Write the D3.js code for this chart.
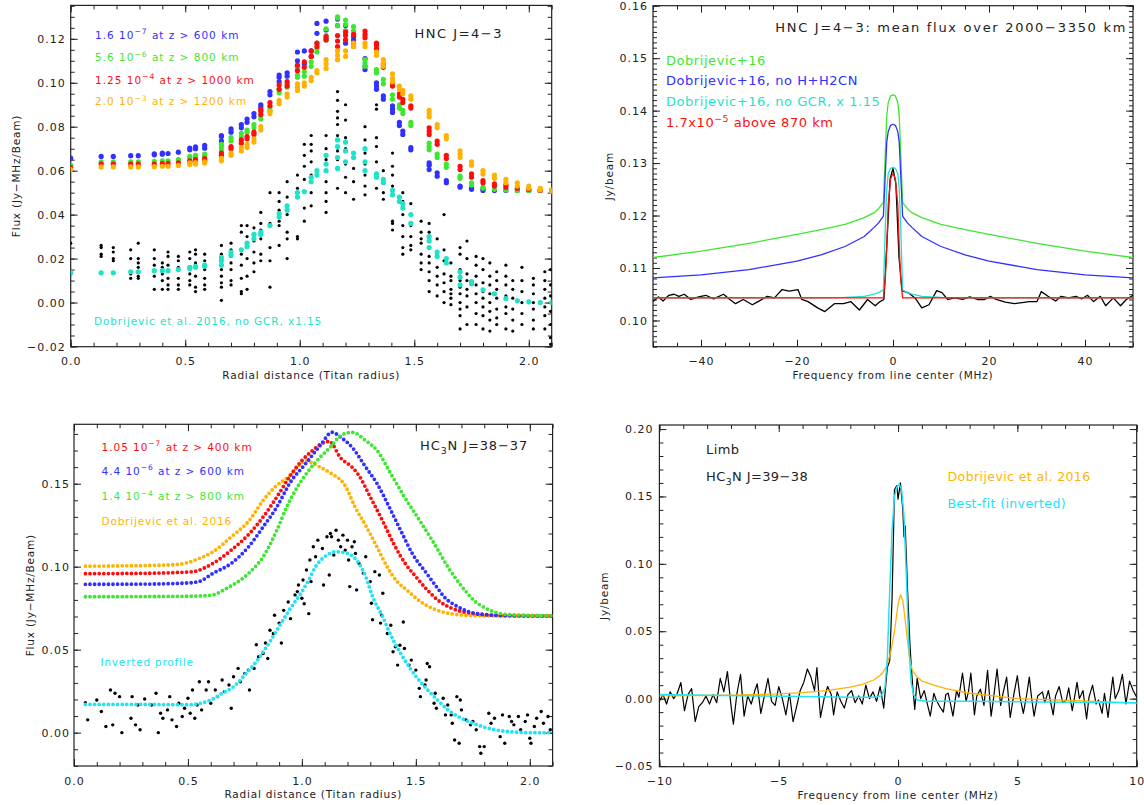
<!DOCTYPE html>
<html>
<head>
<meta charset="utf-8">
<script src="https://d3js.org/d3.v7.min.js"></script>
<style>
  body { margin: 0; background: #fff; }
  svg text { font-family: "DejaVu Sans", sans-serif; fill: #222; }
</style>
</head>
<body>
<svg id="chart" width="1144" height="805"></svg>
<script>
// ---------- panel 1 : HNC J=4-3 radial profiles ----------
const hncR = [0.0, 0.133, 0.186, 0.262, 0.295, 0.365, 0.40, 0.425, 0.47, 0.52, 0.545, 0.585, 0.658, 0.70, 0.745, 0.77,
  0.80, 0.83, 0.87, 0.91, 0.945, 0.99, 1.02, 1.05, 1.075, 1.115, 1.165, 1.20, 1.235, 1.285, 1.335, 1.365, 1.405,
  1.435, 1.45, 1.485, 1.565, 1.60, 1.64, 1.70, 1.75, 1.80, 1.85, 1.90, 1.95, 2.00, 2.05, 2.10];
const hncBlue = [[0.0657],[0.0665],[0.0665],[0.0668],[0.0668],[0.0672,0.0677],[0.0675,0.068],[0.0678],[0.0684],[0.0695,0.0703],
  [0.070,0.0708],[0.0702,0.0715],[0.0735,0.0755,0.076],[0.0775,0.079],[0.0795,0.081],[0.082,0.0835],[0.0845,0.086],[0.089,0.090],
  [0.0945,0.096],[0.1005,0.1025,0.1035],[0.103,0.1045],[0.1075,0.110,0.114],[0.1085,0.1145],[0.112,0.1145],[0.1225,0.127],
  [0.120,0.124,0.128],[0.126,0.129],[0.118,0.1235,0.126],[0.1165,0.1195,0.121],[0.106,0.1075,0.111],[0.097,0.0985,0.100],
  [0.0925,0.094],[0.0865,0.088,0.0895],[0.0805,0.082],[0.0765,0.078],[0.0695,0.0705],[0.0605,0.0625,0.0635],[0.0575,0.059],
  [0.0545,0.0555],[0.0525,0.053],[0.0515,0.052],[0.051,0.0515],[0.051],[0.051],[0.051],[0.051],[0.051],[0.051]];
const hncGreen = [[0.0624],[0.064],[0.064],[0.064],[0.064],[0.0642],[0.0645],[0.0645],[0.065],[0.0658,0.0665],[0.066,0.067],
  [0.0665,0.0675],[0.0695,0.071,0.072],[0.0735,0.075],[0.0755,0.077],[0.0775,0.0785],[0.0795,0.081],[0.0835,0.085],[0.0875,0.089],
  [0.0955,0.097],[0.098,0.0995],[0.1025,0.1035,0.107],[0.103,0.105],[0.1075,0.1095],[0.114,0.1155,0.118],[0.1195,0.1215,0.1245],
  [0.126,0.1295,0.130],[0.1235,0.1265,0.1285],[0.1235,0.1255],[0.1075,0.109,0.1105],[0.1045,0.106],[0.0995,0.1015],[0.0925,0.0945],
  [0.0885,0.090],[0.086,0.0875],[0.0805,0.082],[0.0695,0.071,0.0725],[0.066,0.0675],[0.0615,0.063],[0.0565,0.0575],[0.0535,0.0545],
  [0.052,0.0525],[0.0515],[0.0512],[0.051],[0.051],[0.051],[0.051]];
const hncRed = [[0.0614],[0.063],[0.063],[0.063],[0.063],[0.063],[0.0632],[0.0633],[0.0635],[0.064,0.0645],[0.0643,0.065],
  [0.0645,0.0655],[0.067,0.068],[0.070,0.071],[0.0725,0.074],[0.0745,0.0755],[0.0765,0.0775],[0.0855,0.087,0.088],[0.0895,0.091],
  [0.097,0.099],[0.0985,0.1005],[0.1055,0.108],[0.107,0.1095],[0.112,0.1145],[0.1165,0.118],[0.1195,0.121],[0.1165,0.119,0.1215],
  [0.1195,0.1215,0.123],[0.118,0.122],[0.1205,0.122,0.1235],[0.1155,0.117,0.118],[0.107,0.1085],[0.0985,0.100],[0.0935,0.095],
  [0.091,0.0925],[0.0885,0.0895],[0.0765,0.078,0.0795],[0.072,0.0735],[0.0655,0.067],[0.0605,0.062],[0.057,0.0585],[0.0545,0.0555],
  [0.053,0.054],[0.0525,0.0535],[0.052],[0.0515],[0.051],[0.051]];
const hncOrange = [[0.0605],[0.0617],[0.0617],[0.0617],[0.0617],[0.0618],[0.062],[0.062],[0.0624],[0.0628,0.0635],[0.063,0.0637],
  [0.0635,0.064],[0.0645,0.0656],[0.067,0.068],[0.069,0.0705],[0.0705,0.072],[0.073,0.0745],[0.0785,0.080],[0.086,0.087],
  [0.0905,0.092],[0.0935,0.095],[0.0965,0.098,0.0995],[0.0985,0.100],[0.101,0.1025],[0.1045,0.1055],[0.1065,0.1085,0.1105],
  [0.1105,0.1125,0.1145],[0.112,0.1145],[0.1165,0.118],[0.1165,0.118],[0.1125,0.114],[0.1075,0.109,0.1105],[0.1005,0.102,0.104],
  [0.097,0.0985],[0.095,0.0965],[0.0925,0.094],[0.0845,0.086,0.0875],[0.0795,0.081],[0.0745,0.076],[0.066,0.0675,0.069],
  [0.0625,0.064],[0.0585,0.060],[0.0565,0.058],[0.0545,0.056],[0.053,0.0545],[0.052,0.053],[0.0512,0.052],[0.0505,0.0512]];
const hncNoGcr = [[0.0135],[0.0135],[0.0135],[0.014],[0.014],[0.0145],[0.0145],[0.0145],[0.015],[0.0155,0.016],[0.016,0.0165],
  [0.0165,0.017],[0.017,0.019,0.0205],[0.0215,0.023],[0.024],[0.0255,0.027],[0.029,0.031],[0.031,0.032],[0.035],[0.039,0.0405],
  [0.042,0.044],[0.048,0.050],[0.0505],[0.055,0.057],[0.058,0.060],[0.060,0.063,0.067],[0.061,0.066,0.071,0.074],[0.064,0.069,0.073],
  [0.066,0.068],[0.060,0.064,0.070],[0.057,0.0585],[0.0545,0.056],[0.049,0.051],[0.046,0.048],[0.043,0.045],[0.036,0.040],
  [0.025,0.028,0.030],[0.021,0.023],[0.018,0.020],[0.008,0.0115,0.014],[0.0085,0.0095],[0.0058],[0.004],[0.0018],[0.0008],
  [0.0003],[0.0],[0.0]];
const hncObs = [
  [0.0, [0.027, 0.013]], [0.133, [0.026, 0.025, 0.022, 0.021]], [0.186, [0.025, 0.023, 0.020, 0.019]],
  [0.262, [0.024, 0.020, 0.013, 0.011]], [0.295, [0.027, 0.020, 0.018, 0.016, 0.012, 0.011]],
  [0.365, [0.024, 0.020, 0.017, 0.012, 0.006]], [0.40, [0.018, 0.016, 0.013, 0.010, 0.006]],
  [0.425, [0.023, 0.021, 0.017, 0.011, 0.008, 0.006]], [0.47, [0.021, 0.019, 0.016, 0.011, 0.008, 0.006]],
  [0.52, [0.023, 0.020, 0.013, 0.010, 0.008]], [0.545, [0.024, 0.022, 0.018, 0.016, 0.012, 0.007, 0.005]],
  [0.585, [0.022, 0.019, 0.015, 0.011, 0.008, 0.006]],
  [0.658, [0.026, 0.022, 0.020, 0.018, 0.015, 0.012, 0.009, 0.007, 0.001]],
  [0.70, [0.027, 0.024, 0.021, 0.018, 0.015, 0.010, 0.008]], [0.745, [0.035, 0.032, 0.022, 0.017, 0.011, 0.005, 0.004]],
  [0.77, [0.035, 0.030, 0.025, 0.020, 0.012, 0.006]], [0.80, [0.034, 0.031, 0.028, 0.023, 0.018, 0.014]],
  [0.83, [0.041, 0.036, 0.033, 0.029, 0.022, 0.019]], [0.87, [0.050, 0.036, 0.025, 0.019, 0.007]],
  [0.91, [0.050, 0.046, 0.042, 0.037, 0.035, 0.026]], [0.945, [0.055, 0.048, 0.044, 0.040, 0.032, 0.029, 0.020]],
  [0.99, [0.058, 0.052, 0.048, 0.030, 0.029]], [1.02, [0.072, 0.067, 0.062, 0.056, 0.043, 0.037]],
  [1.05, [0.076, 0.072, 0.069, 0.064, 0.058, 0.055, 0.050, 0.044]],
  [1.115, [0.076, 0.070, 0.065, 0.060, 0.055, 0.050, 0.046, 0.041]],
  [1.165, [0.096, 0.092, 0.087, 0.084, 0.081, 0.076, 0.069, 0.065, 0.061, 0.052]],
  [1.20, [0.090, 0.083, 0.075, 0.070, 0.063, 0.057, 0.050]], [1.235, [0.061, 0.055, 0.047]],
  [1.285, [0.080, 0.074, 0.068, 0.063, 0.058, 0.053, 0.049]], [1.335, [0.090, 0.088, 0.075, 0.071, 0.064, 0.058, 0.052]],
  [1.365, [0.060, 0.055, 0.050, 0.047]], [1.405, [0.068, 0.062, 0.058, 0.053, 0.037, 0.036, 0.033]],
  [1.45, [0.050, 0.046, 0.043, 0.040, 0.035, 0.030, 0.025, 0.022]], [1.485, [0.045, 0.040, 0.035, 0.030, 0.026, 0.024]],
  [1.53, [0.037, 0.032, 0.029, 0.027, 0.022, 0.018, 0.015]],
  [1.565, [0.036, 0.032, 0.025, 0.021, 0.018, 0.014, 0.010, 0.005]], [1.60, [0.029, 0.022, 0.016, 0.012, 0.008, 0.003]],
  [1.63, [0.040, 0.024, 0.019, 0.013, 0.009, 0.005, 0.0]], [1.66, [0.018, 0.012, 0.010, 0.006, 0.004, 0.002, -0.001]],
  [1.70, [0.025, 0.022, 0.015, 0.012, 0.010, 0.007, 0.004, 0.0, -0.003, -0.006, -0.012]],
  [1.73, [0.028, 0.020, 0.013, 0.010, 0.006, 0.003, -0.002, -0.010]],
  [1.77, [0.021, 0.017, 0.012, 0.008, 0.004, 0.0, -0.005, -0.010]],
  [1.80, [0.020, 0.015, 0.009, 0.005, 0.002, -0.002, -0.006, -0.012]],
  [1.83, [0.018, 0.012, 0.008, 0.004, 0.0, -0.004, -0.008, -0.013]],
  [1.86, [0.014, 0.010, 0.006, 0.002, -0.003, -0.007, -0.010]],
  [1.90, [0.017, 0.012, 0.008, 0.003, -0.002, -0.005, -0.012]], [1.93, [0.010, 0.006, 0.002, -0.003, -0.008, -0.013]],
  [1.97, [0.016, 0.010, 0.005, 0.0, -0.005, -0.010]], [2.02, [0.011, 0.008, 0.004, 0.0, -0.003, -0.008, -0.012]],
  [2.07, [0.014, 0.010, 0.006, 0.002, -0.002, -0.006, -0.012]], [2.095, [0.015, 0.008, 0.003, -0.004, -0.010, -0.016, -0.019]]
];

// ---------- panel 2 : HNC mean spectrum ----------
const freqModel = [-50, -40, -30, -20, -15, -10, -6, -4, -3, -2, -1.6, -1.3, -1, -0.5, 0, 0.5, 1, 1.3, 1.6, 2, 3, 4, 6, 10, 15, 20, 30, 40, 50];
const specDob = [0.1120, 0.1132, 0.1147, 0.1164, 0.1173, 0.1183, 0.1196, 0.1205, 0.1213, 0.1225, 0.1320, 0.1390, 0.1415, 0.1428, 0.1430,
  0.1428, 0.1415, 0.1390, 0.1320, 0.1225, 0.1213, 0.1205, 0.1196, 0.1183, 0.1173, 0.1164, 0.1147, 0.1132, 0.1120];
const specNoH = [0.1081, 0.1087, 0.1097, 0.1113, 0.1125, 0.1141, 0.1160, 0.1177, 0.1186, 0.1199, 0.1280, 0.1340, 0.1360, 0.1372, 0.1374,
  0.1372, 0.1360, 0.1340, 0.1280, 0.1199, 0.1186, 0.1177, 0.1160, 0.1141, 0.1125, 0.1113, 0.1097, 0.1087, 0.1081];
const specNoGcr = [0.1043, 0.1043, 0.1043, 0.1043, 0.1043, 0.1044, 0.1046, 0.1050, 0.1053, 0.1058, 0.1180, 0.1250, 0.1280, 0.1290, 0.1292,
  0.1290, 0.1280, 0.1250, 0.1180, 0.1058, 0.1053, 0.1050, 0.1046, 0.1044, 0.1043, 0.1043, 0.1043, 0.1043, 0.1043];
const specConst = [0.1043, 0.1043, 0.1043, 0.1043, 0.1043, 0.1043, 0.1043, 0.1043, 0.1043, 0.1043, 0.1080, 0.1140, 0.1220, 0.1270, 0.1280,
  0.1270, 0.1220, 0.1140, 0.1080, 0.1043, 0.1043, 0.1043, 0.1043, 0.1043, 0.1043, 0.1043, 0.1043, 0.1043, 0.1043];
const freqObs = [-50, -48.9, -47.9, -46.7, -45.6, -44.6, -43.5, -42.1, -40.5, -39, -37.4, -35.3, -34, -32.8, -31.2, -29.3, -28.1,
  -26.2, -24.7, -23.1, -21.6, -19.8, -19, -17.7, -15.7, -14.2, -12.2, -10.3, -8.8, -7, -5.3, -3.7, -2.7, -1.9, -1.25, -0.6, 0,
  0.6, 1.25, 1.9, 3.3, 4.6, 6, 7.5, 9.1, 10.2, 11.4, 12.9, 14.5, 16, 17.6, 19.1, 20.3, 21.5, 23.4, 25.3, 26.9, 28.4, 30, 30.9,
  32.3, 33.9, 35, 36.6, 38.1, 39.3, 40.5, 41.8, 43.2, 44.3, 45.9, 47.4, 48.6, 50];
const fluxObs = [0.1036, 0.1045, 0.1037, 0.1048, 0.1050, 0.1046, 0.1050, 0.1040, 0.1045, 0.1048, 0.1041, 0.1050, 0.1040, 0.1032,
  0.1040, 0.1030, 0.1036, 0.1046, 0.1043, 0.1059, 0.1056, 0.1059, 0.1040, 0.1036, 0.1024, 0.1017, 0.1032, 0.1032, 0.1036, 0.1020,
  0.1040, 0.1028, 0.1036, 0.1040, 0.1150, 0.1270, 0.1290, 0.1260, 0.1120, 0.1057, 0.1052, 0.1043, 0.1024, 0.1030, 0.1057, 0.1053,
  0.1040, 0.1043, 0.1040, 0.1045, 0.1040, 0.1040, 0.1046, 0.1040, 0.1035, 0.1032, 0.1034, 0.1036, 0.1036, 0.1055, 0.1046, 0.1037,
  0.1046, 0.1043, 0.1046, 0.1041, 0.1048, 0.1036, 0.1046, 0.1028, 0.1043, 0.1028, 0.1040, 0.1048];

// ---------- panel 3 : HC3N J=38-37 radial profiles ----------
const hc3nOrange = [[0.05,0.1003],[0.2,0.1005],[0.35,0.1008],[0.45,0.1013],[0.5,0.1025],[0.55,0.105],[0.61,0.109],[0.69,0.118],
  [0.77,0.128],[0.83,0.140],[0.89,0.149],[0.94,0.154],[0.98,0.160],[1.02,0.164],[1.05,0.162],[1.08,0.160],[1.125,0.1565],
  [1.19,0.1488],[1.234,0.1358],[1.28,0.1248],[1.33,0.1117],[1.375,0.0997],[1.42,0.0907],[1.46,0.086],[1.52,0.079],
  [1.58,0.0745],[1.66,0.0715],[1.75,0.0705],[2.1,0.0703]];
const hc3nRed = [[0.05,0.0958],[0.3,0.096],[0.45,0.0965],[0.52,0.097],[0.61,0.102],[0.69,0.110],[0.77,0.120],[0.83,0.130],
  [0.89,0.142],[0.95,0.155],[1.0,0.164],[1.047,0.170],[1.09,0.1745],[1.12,0.1755],[1.17,0.1655],[1.22,0.160],[1.25,0.155],
  [1.30,0.142],[1.36,0.126],[1.406,0.113],[1.453,0.102],[1.5,0.094],[1.55,0.086],[1.6,0.0795],[1.66,0.0748],[1.74,0.072],
  [1.85,0.0707],[2.1,0.0703]];
const hc3nBlue = [[0.05,0.0894],[0.3,0.0895],[0.5,0.0902],[0.547,0.091],[0.61,0.096],[0.69,0.102],[0.766,0.112],[0.83,0.124],
  [0.89,0.136],[0.95,0.151],[1.016,0.162],[1.08,0.173],[1.133,0.181],[1.17,0.178],[1.22,0.172],[1.28,0.160],[1.33,0.150],
  [1.39,0.134],[1.44,0.120],[1.484,0.108],[1.547,0.096],[1.59,0.088],[1.63,0.081],[1.67,0.077],[1.72,0.0735],[1.8,0.0712],
  [1.9,0.0705],[2.1,0.0703]];
const hc3nGreen = [[0.05,0.0819],[0.3,0.082],[0.5,0.0822],[0.6,0.0828],[0.67,0.087],[0.766,0.096],[0.83,0.106],[0.89,0.122],
  [0.94,0.138],[0.98,0.148],[1.03,0.158],[1.08,0.166],[1.125,0.172],[1.17,0.179],[1.22,0.181],[1.28,0.176],[1.33,0.170],
  [1.39,0.156],[1.45,0.142],[1.516,0.128],[1.58,0.114],[1.64,0.100],[1.68,0.092],[1.72,0.085],[1.76,0.079],[1.80,0.0755],
  [1.85,0.0725],[1.92,0.071],[2.1,0.0705]];
const hc3nInverted = [[0.05,0.017],[0.3,0.017],[0.5,0.0168],[0.6,0.0197],[0.65,0.0237],[0.7,0.0277],[0.75,0.0348],[0.8,0.0428],
  [0.85,0.0528],[0.9,0.0639],[0.95,0.075],[1.0,0.085],[1.03,0.092],[1.06,0.100],[1.1,0.106],[1.15,0.109],[1.2,0.108],
  [1.25,0.102],[1.28,0.094],[1.31,0.082],[1.35,0.071],[1.4,0.056],[1.45,0.044],[1.5,0.034],[1.55,0.026],[1.6,0.019],
  [1.65,0.0127],[1.7,0.0087],[1.75,0.0057],[1.8,0.0033],[1.85,0.0017],[1.9,0.0007],[2.0,0.0],[2.1,0.0]];
const hc3nObs = [[0.05,0.018],[0.06,0.0077],[0.10,0.0197],[0.12,0.0127],[0.14,0.0037],[0.16,0.0257],[0.17,0.0047],[0.18,0.0237],
  [0.20,0.0217],[0.21,0.0],[0.25,0.0087],[0.255,0.0217],[0.27,0.0047],[0.28,0.0167],[0.29,0.0017],[0.31,0.0203],[0.34,0.0167],
  [0.36,0.0237],[0.37,0.0],[0.38,0.0117],[0.39,0.0087],[0.41,0.0137],[0.42,0.0217],[0.43,0.0077],[0.45,0.0037],[0.46,0.0177],
  [0.475,0.0097],[0.485,0.0147],[0.50,0.0207],[0.51,0.0117],[0.52,0.0257],[0.53,0.0087],[0.54,0.0167],[0.55,0.0307],[0.56,0.0137],
  [0.58,0.0257],[0.59,0.0307],[0.60,0.0177],[0.62,0.0257],[0.63,0.0217],[0.65,0.0317],[0.66,0.0247],[0.68,0.0287],[0.69,0.0147],
  [0.70,0.0337],[0.72,0.0387],[0.73,0.0307],[0.75,0.0357],[0.765,0.0377],[0.77,0.0257],[0.79,0.0387],[0.80,0.053],[0.81,0.0457],
  [0.83,0.0477],[0.84,0.054],[0.85,0.0447],[0.86,0.0617],[0.875,0.0597],[0.88,0.0707],[0.90,0.066],[0.91,0.054],[0.92,0.0737],
  [0.94,0.0787],[0.95,0.0687],[0.97,0.083],[0.98,0.085],[0.985,0.089],[1.0,0.081],[1.005,0.092],[1.01,0.0777],[1.02,0.098],
  [1.03,0.0717],[1.035,0.104],[1.04,0.091],[1.05,0.112],[1.06,0.106],[1.07,0.116],[1.09,0.111],[1.095,0.089],[1.11,0.118],
  [1.12,0.095],[1.125,0.120],[1.13,0.118],[1.14,0.107],[1.15,0.122],[1.16,0.116],[1.17,0.112],[1.18,0.119],[1.19,0.110],
  [1.20,0.116],[1.205,0.104],[1.21,0.088],[1.22,0.112],[1.23,0.115],[1.235,0.108],[1.24,0.086],[1.25,0.102],[1.27,0.096],
  [1.28,0.106],[1.30,0.091],[1.305,0.078],[1.31,0.068],[1.32,0.097],[1.34,0.095],[1.345,0.066],[1.35,0.0707],[1.355,0.084],
  [1.375,0.0597],[1.39,0.0647],[1.40,0.0487],[1.41,0.0517],[1.42,0.0407],[1.43,0.0527],[1.445,0.0667],[1.45,0.0507],[1.47,0.0407],
  [1.48,0.0437],[1.50,0.0377],[1.515,0.0267],[1.52,0.0217],[1.54,0.0287],[1.545,0.0317],[1.55,0.0417],[1.56,0.0397],[1.58,0.0177],
  [1.585,0.0237],[1.59,0.0147],[1.62,0.0207],[1.63,0.0107],[1.64,0.0167],[1.655,0.0107],[1.66,0.0057],[1.67,-0.0044],[1.68,0.0217],
  [1.69,-0.0064],[1.695,0.0197],[1.70,0.0137],[1.72,0.0077],[1.74,0.0047],[1.75,0.0067],[1.765,0.0017],[1.78,-0.0084],
  [1.785,-0.0124],[1.80,-0.0084],[1.82,0.0117],[1.83,0.0057],[1.845,0.0087],[1.87,-0.0024],[1.88,0.0107],[1.89,-0.0064],
  [1.91,0.0097],[1.92,0.0067],[1.93,0.0047],[1.95,0.0097],[1.96,0.0017],[1.98,0.0067],[1.99,0.0107],[2.0,-0.0034],[2.005,-0.0064],
  [2.02,0.0037],[2.03,0.0087],[2.05,0.0127],[2.06,0.0057],[2.08,0.0097],[2.09,0.0017]];

// ---------- panel 4 : HC3N J=39-38 limb spectrum ----------
const limbSpec = [[-10.0,-0.002],[-9.85,0.003],[-9.7,-0.004],[-9.55,0.005],[-9.4,0.0],[-9.25,0.004],[-9.1,0.012],[-8.95,-0.009],
  [-8.8,0.003],[-8.65,0.0075],[-8.5,-0.017],[-8.35,-0.006],[-8.2,-0.003],[-8.05,0.002],[-7.9,-0.004],[-7.75,0.003],[-7.6,-0.003],
  [-7.45,0.015],[-7.3,0.005],[-7.15,0.020],[-7.0,-0.005],[-6.9,-0.019],[-6.75,0.004],[-6.6,0.018],[-6.45,-0.013],[-6.3,0.002],
  [-6.15,-0.004],[-6.0,0.006],[-5.9,0.011],[-5.75,-0.011],[-5.6,0.002],[-5.45,0.015],[-5.3,-0.002],[-5.15,-0.005],[-5.0,0.009],
  [-4.85,0.0],[-4.7,-0.012],[-4.55,0.004],[-4.4,-0.017],[-4.25,-0.006],[-4.1,0.006],[-3.95,0.012],[-3.8,0.022],[-3.65,0.016],
  [-3.5,0.006],[-3.4,0.023],[-3.25,-0.014],[-3.1,0.0],[-2.95,0.009],[-2.8,0.003],[-2.7,-0.012],[-2.55,0.005],[-2.4,-0.002],
  [-2.25,-0.007],[-2.1,0.003],[-1.95,0.006],[-1.8,-0.003],[-1.65,0.002],[-1.5,-0.004],[-1.35,0.010],[-1.2,0.0],[-1.05,0.005],
  [-0.9,-0.002],[-0.75,0.009],[-0.6,-0.007],[-0.45,0.023],[-0.35,0.028],[-0.25,0.075],[-0.15,0.155],[-0.05,0.158],[0.0,0.148],
  [0.1,0.160],[0.2,0.140],[0.25,0.120],[0.3,0.128],[0.4,0.080],[0.5,0.040],[0.55,0.025],[0.62,0.008],[0.7,-0.008],[0.8,0.015],
  [0.95,0.0],[1.1,0.006],[1.2,-0.002],[1.35,-0.013],[1.5,0.004],[1.6,-0.001],[1.75,-0.006],[1.9,-0.010],[2.0,0.003],[2.1,0.004],
  [2.2,-0.004],[2.3,-0.013],[2.45,0.006],[2.55,0.001],[2.7,0.019],[2.85,-0.002],[2.95,0.005],[3.05,0.019],[3.2,-0.012],[3.3,0.002],
  [3.45,0.007],[3.6,-0.005],[3.75,0.021],[3.9,-0.013],[4.0,0.0],[4.15,0.022],[4.3,-0.005],[4.4,0.004],[4.55,0.016],[4.7,-0.014],
  [4.85,0.003],[5.0,0.017],[5.1,0.002],[5.25,-0.011],[5.4,0.004],[5.5,0.016],[5.6,0.0],[5.7,-0.013],[5.85,0.002],[6.05,0.005],
  [6.15,-0.003],[6.3,0.006],[6.5,-0.012],[6.6,0.002],[6.75,0.009],[6.9,-0.003],[7.05,-0.001],[7.15,0.008],[7.3,-0.009],[7.5,0.012],
  [7.6,0.0],[7.75,0.006],[7.9,-0.015],[8.0,0.001],[8.15,0.010],[8.3,-0.004],[8.4,-0.001],[8.55,-0.011],[8.65,0.004],[8.8,-0.014],
  [8.9,0.002],[9.0,0.016],[9.1,0.0],[9.25,0.006],[9.4,0.018],[9.55,-0.004],[9.7,0.013],[9.85,0.006],[10.0,0.001]];
const limbDob = [[-10,0.002],[-7,0.0025],[-5,0.0035],[-4,0.0045],[-3,0.006],[-2,0.0085],[-1.5,0.0105],[-1,0.014],[-0.7,0.018],
  [-0.5,0.023],[-0.3,0.035],[-0.15,0.050],[0,0.070],[0.1,0.077],[0.2,0.073],[0.3,0.058],[0.4,0.042],[0.5,0.028],[0.6,0.021],
  [0.8,0.016],[1.0,0.013],[1.5,0.010],[2,0.0075],[3,0.004],[4,0.002],[5,0.0],[7.5,-0.0015],[10,-0.0034]];
const limbFit = [[-10,0.003],[-8,0.0025],[-6,0.002],[-4,0.0015],[-2,0.001],[-1,0.001],[-0.7,0.002],[-0.55,0.008],[-0.45,0.030],
  [-0.35,0.080],[-0.25,0.125],[-0.15,0.150],[-0.05,0.157],[0.05,0.159],[0.15,0.155],[0.25,0.135],[0.35,0.090],[0.45,0.040],
  [0.55,0.012],[0.65,0.003],[0.8,-0.001],[1.2,-0.002],[3,-0.002],[6,-0.0025],[10,-0.003]];

const col = { blue: "#3030ff", green: "#3ee632", red: "#ff0d0d", orange: "#ffb300", teal: "#1ee3c6", cyan: "#22e2f4", black: "#000" };

const svg = d3.select("#chart");

// frame, inward ticks on four sides, tick labels
function panel(o) {
  const x = d3.scaleLinear().domain(o.xDomain).range([o.left, o.right]);
  const y = d3.scaleLinear().domain(o.yDomain).range([o.bottom, o.top]);
  const g = svg.append("g");
  const steps = (d, s) => d3.range(Math.ceil(d[0] / s - 1e-9), Math.floor(d[1] / s + 1e-9) + 1).map(i => +(i * s).toFixed(6));
  const xMaj = steps(o.xDomain, o.xMajor), xMin = steps(o.xDomain, o.xMinor);
  const yMaj = steps(o.yDomain, o.yMajor), yMin = steps(o.yDomain, o.yMinor);

  const axes = [
    [d3.axisBottom(x), o.bottom, true, xMaj, xMin, o.xFormat],
    [d3.axisTop(x), o.top, true, xMaj, xMin, null],
    [d3.axisLeft(y), o.left, false, yMaj, yMin, o.yFormat],
    [d3.axisRight(y), o.right, false, yMaj, yMin, null]
  ];
  axes.forEach(([ax, pos, horiz, maj, min, fmt]) => {
    const t = horiz ? `translate(0,${pos})` : `translate(${pos},0)`;
    g.append("g").attr("transform", t)
      .call(ax.tickValues(min).tickSize(-4).tickFormat(""))
      .call(a => a.select(".domain").remove());
    const a = g.append("g").attr("transform", t)
      .call(ax.tickValues(maj).tickSize(-7).tickPadding(horiz ? 11 : o.yPad).tickFormat(fmt ? d3.format(fmt) : ""));
    a.select(".domain").remove();
    a.attr("font-size", 11).attr("font-family", null);
    a.selectAll("text").style("fill", "#222").style("letter-spacing", "1px");
  });
  g.selectAll(".tick line").attr("stroke", "#222");
  g.append("rect").attr("x", o.left).attr("y", o.top)
    .attr("width", o.right - o.left).attr("height", o.bottom - o.top)
    .attr("fill", "none").attr("stroke", "#222").attr("stroke-width", 1.2);

  const cid = "clip" + o.id;
  svg.append("clipPath").attr("id", cid).append("rect")
    .attr("x", o.left).attr("y", o.top).attr("width", o.right - o.left).attr("height", o.bottom - o.top);
  const plot = svg.append("g").attr("clip-path", `url(#${cid})`);

  // axis titles
  svg.append("text").attr("x", (o.left + o.right) / 2).attr("y", o.bottom + 32)
    .attr("text-anchor", "middle").attr("font-size", 10.5).style("letter-spacing", "0.8px").text(o.xTitle);
  svg.append("text").attr("transform", `translate(${o.yTitleX},${(o.top + o.bottom) / 2}) rotate(-90)`)
    .attr("text-anchor", "middle").attr("font-size", 10.5).style("letter-spacing", "0.8px").text(o.yTitle);
  return { x, y, plot };
}

// text with superscript / subscript parts
function label(x, y, parts, color, size, spacing, anchor) {
  const t = svg.append("text").attr("x", x).attr("y", y).style("fill", color)
    .attr("font-size", size).attr("text-anchor", anchor || "start").style("letter-spacing", spacing + "px");
  let shift = 0;
  parts.forEach(p => {
    const s = t.append("tspan");
    if (typeof p === "string") { s.attr("dy", -shift).text(p); shift = 0; }
    else {
      const d = p.sup ? -size * 0.42 : size * 0.3;
      s.attr("dy", d - shift).attr("font-size", size * 0.72).text(p.sup || p.sub);
      shift = d;
    }
  });
}

function dots(p, pts, color, r) {
  p.plot.append("g").selectAll("circle").data(pts).join("circle")
    .attr("cx", d => p.x(d[0])).attr("cy", d => p.y(d[1])).attr("r", r).attr("fill", color);
}
function curve(p, pts, color, w, dotted) {
  const line = d3.line().x(d => p.x(d[0])).y(d => p.y(d[1]));
  const path = p.plot.append("path").datum(pts).attr("fill", "none").attr("stroke", color);
  if (dotted) {
    path.attr("d", line.curve(d3.curveMonotoneX)).attr("stroke-width", 3.8)
      .attr("stroke-linecap", "round").attr("stroke-dasharray", "0,4.6");
  } else {
    path.attr("d", line.curve(d3.curveLinear)).attr("stroke-width", w).attr("stroke-linejoin", "round");
  }
}
const flat = vals => hncR.flatMap((r, i) => vals[i].map(v => [r, v]));

// ===== panel 1 =====
const p1 = panel({ id: 1, left: 70.7, right: 551.7, top: 5.4, bottom: 346.7, xDomain: [0, 2.1], yDomain: [-0.0201, 0.1352],
  xMajor: 0.5, xMinor: 0.1, yMajor: 0.02, yMinor: 0.005, xFormat: ".1f", yFormat: ".2f", yPad: 5,
  xTitle: "Radial distance (Titan radius)", yTitle: "Flux (Jy−MHz/Beam)", yTitleX: 20 });
dots(p1, flat(hncBlue), col.blue, 2.6);
dots(p1, flat(hncGreen), col.green, 2.6);
dots(p1, flat(hncRed), col.red, 2.6);
dots(p1, flat(hncOrange), col.orange, 2.6);
dots(p1, hncObs.flatMap(([r, vs]) => vs.map(v => [r, v])), col.black, 1.6);
dots(p1, flat(hncNoGcr), col.teal, 2.6);
label(95, 38.6, ["1.6 10", { sup: "−7" }, " at z > 600 km"], col.blue, 10.5, 1.0);
label(95, 61, ["5.6 10", { sup: "−6" }, " at z > 800 km"], col.green, 10.5, 1.0);
label(95, 83.6, ["1.25 10", { sup: "−4" }, " at z > 1000 km"], col.red, 10.5, 1.0);
label(95, 105.3, ["2.0 10", { sup: "−3" }, " at z > 1200 km"], col.orange, 10.5, 1.0);
label(414.6, 38, ["HNC  J=4−3"], "#222", 13, 1.5);
label(94, 324.6, ["Dobrijevic et al. 2016, no GCR, x1.15"], col.teal, 10.5, 0.9);

// ===== panel 2 =====
const p2 = panel({ id: 2, left: 653, right: 1133, top: 5.7, bottom: 346.7, xDomain: [-50, 50], yDomain: [0.095, 0.16],
  xMajor: 20, xMinor: 5, yMajor: 0.01, yMinor: 0.001, xFormat: "d", yFormat: ".2f", yPad: 5,
  xTitle: "Frequency from line center (MHz)", yTitle: "Jy/beam", yTitleX: 613 });
const zipF = vals => freqModel.map((f, i) => [f, vals[i]]);
curve(p2, zipF(specDob), col.green, 1.3);
curve(p2, zipF(specNoH), col.blue, 1.3);
curve(p2, freqObs.map((f, i) => [f, fluxObs[i]]), col.black, 1.3);
curve(p2, zipF(specNoGcr), col.teal, 1.3);
curve(p2, zipF(specConst), col.red, 1.3);
label(1127, 32, ["HNC J=4−3: mean flux over 2000−3350 km"], "#222", 13, 1.7, "end");
label(666, 64.7, ["Dobrijevic+16"], col.green, 13, 0.55);
label(666, 85.4, ["Dobrijevic+16, no H+H2CN"], col.blue, 13, 0.55);
label(666, 105.7, ["Dobrijevic+16, no GCR, x 1.15"], col.teal, 13, 0.55);
label(666, 127, ["1.7x10", { sup: "−5" }, " above 870 km"], col.red, 13, 0.55);

// ===== panel 3 =====
const p3 = panel({ id: 3, left: 74, right: 552.6, top: 424.3, bottom: 766, xDomain: [0, 2.1], yDomain: [-0.0201, 0.1858],
  xMajor: 0.5, xMinor: 0.1, yMajor: 0.05, yMinor: 0.01, xFormat: ".1f", yFormat: ".2f", yPad: 4,
  xTitle: "Radial distance (Titan radius)", yTitle: "Flux (Jy−MHz/Beam)", yTitleX: 34 });
curve(p3, hc3nOrange, col.orange, 0, true);
curve(p3, hc3nRed, col.red, 0, true);
curve(p3, hc3nBlue, col.blue, 0, true);
curve(p3, hc3nGreen, col.green, 0, true);
dots(p3, hc3nObs, col.black, 1.7);
curve(p3, hc3nInverted, col.cyan, 0, true);
label(101.6, 450.5, ["1.05 10", { sup: "−7" }, " at z > 400 km"], col.red, 10.5, 0.95);
label(101.6, 474.8, ["4.4 10", { sup: "−6" }, " at z > 600 km"], col.blue, 10.5, 0.95);
label(101.6, 500, ["1.4 10", { sup: "−4" }, " at z >  800 km"], col.green, 10.5, 0.95);
label(101.6, 524.8, ["Dobrijevic et al. 2016"], col.orange, 10.5, 0.8);
label(420, 449.7, ["HC", { sub: "3" }, "N  J=38−37"], "#222", 13, 0.9);
label(100.5, 666, ["Inverted profile"], col.cyan, 10.5, 0.8);

// ===== panel 4 =====
const p4 = panel({ id: 4, left: 659.4, right: 1136.7, top: 425, bottom: 766.7, xDomain: [-10, 10], yDomain: [-0.0505, 0.203],
  xMajor: 5, xMinor: 1, yMajor: 0.05, yMinor: 0.01, xFormat: "d", yFormat: ".2f", yPad: 6,
  xTitle: "Frequency from line center (MHz)", yTitle: "Jy/beam", yTitleX: 608 });
curve(p4, limbSpec, col.black, 1.2);
curve(p4, limbDob, col.orange, 1.3);
curve(p4, limbFit, col.cyan, 1.5);
label(706, 453.7, ["Limb"], "#222", 13, 0.4);
label(706, 480.7, ["HC", { sub: "3" }, "N J=39−38"], "#222", 13, 0.4);
label(947.6, 480.7, ["Dobrijevic et al. 2016"], col.orange, 12.5, 0.4);
label(947.6, 508, ["Best-fit (inverted)"], col.cyan, 12.5, 0.4);
</script>
</body>
</html>
